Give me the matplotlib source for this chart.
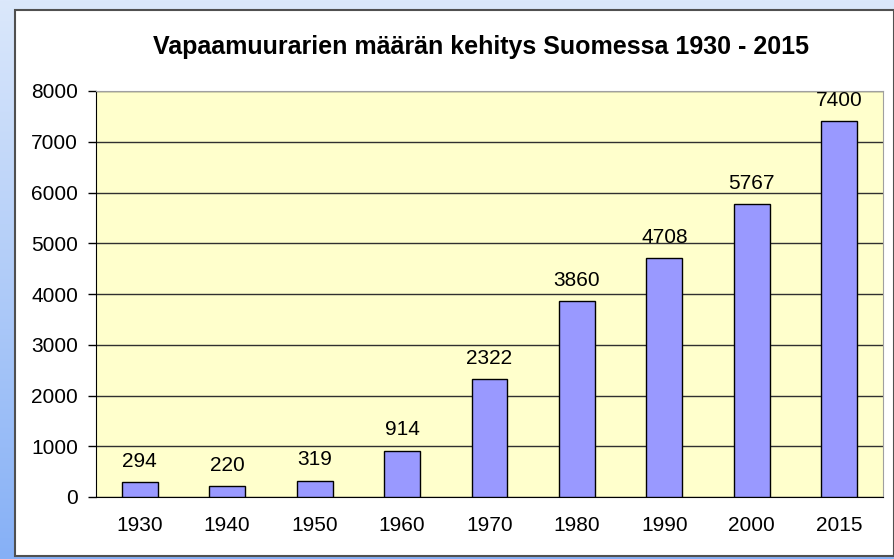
import numpy as np
import matplotlib.pyplot as plt
from matplotlib.patches import Rectangle
from matplotlib.colors import LinearSegmentedColormap

# Data
years = ['1930', '1940', '1950', '1960', '1970', '1980', '1990', '2000', '2015']
members = [294, 220, 319, 914, 2322, 3860, 4708, 5767, 7400]
y_ticks = [0, 1000, 2000, 3000, 4000, 5000, 6000, 7000, 8000]

plt.rcParams['font.family'] = ['Liberation Sans', 'DejaVu Sans']

W, H = 895, 559
fig = plt.figure(figsize=(W / 100, H / 100), dpi=100)

# blue gradient backdrop (slide background)
bg = fig.add_axes([0, 0, 1, 1], zorder=-10)
grad = np.linspace(0, 1, 256).reshape(-1, 1)
cmap = LinearSegmentedColormap.from_list('bg', ['#dbe8fb', '#86b0f6'])
bg.imshow(grad, aspect='auto', cmap=cmap, extent=[0, 1, 0, 1], origin='upper')
bg.set_axis_off()

# white chart frame
frame = Rectangle((15 / W, 3 / H), 879 / W, 546 / H, transform=fig.transFigure,
                  facecolor='white', edgecolor='#505050', linewidth=1.5, zorder=-5)
fig.patches.append(frame)

ax = fig.add_axes([96 / W, 62 / H, 787 / W, 406 / H])
ax.set_facecolor('#ffffcc')

x = np.arange(len(years))
ax.bar(x, members, width=0.41, color='#9999ff', edgecolor='black', linewidth=1, zorder=3)

for xi, v in zip(x, members):
    ax.annotate(str(v), (xi, v), xytext=(0, 15), textcoords='offset points',
                ha='center', va='center', fontsize=15)

ax.set_xlim(-0.5, len(years) - 0.5)
ax.set_ylim(0, 8000)
ax.set_yticks(y_ticks)
ax.set_xticks(x)
ax.set_xticklabels(years)
ax.yaxis.grid(True, color='#303030', linewidth=1)
ax.set_axisbelow(True)

ax.tick_params(axis='y', length=6, width=1, pad=7, labelsize=15)
ax.tick_params(axis='x', length=0, pad=14, labelsize=15)

for side in ['top', 'right']:
    ax.spines[side].set_color('#a0a0a0')
for side in ['left', 'bottom']:
    ax.spines[side].set_color('black')

fig.text(481 / W, 1 - 47 / H, 'Vapaamuurarien määrän kehitys Suomessa 1930 - 2015',
         ha='center', va='center', fontsize=18, fontweight='bold')

fig.savefig('out.png', dpi=100)
